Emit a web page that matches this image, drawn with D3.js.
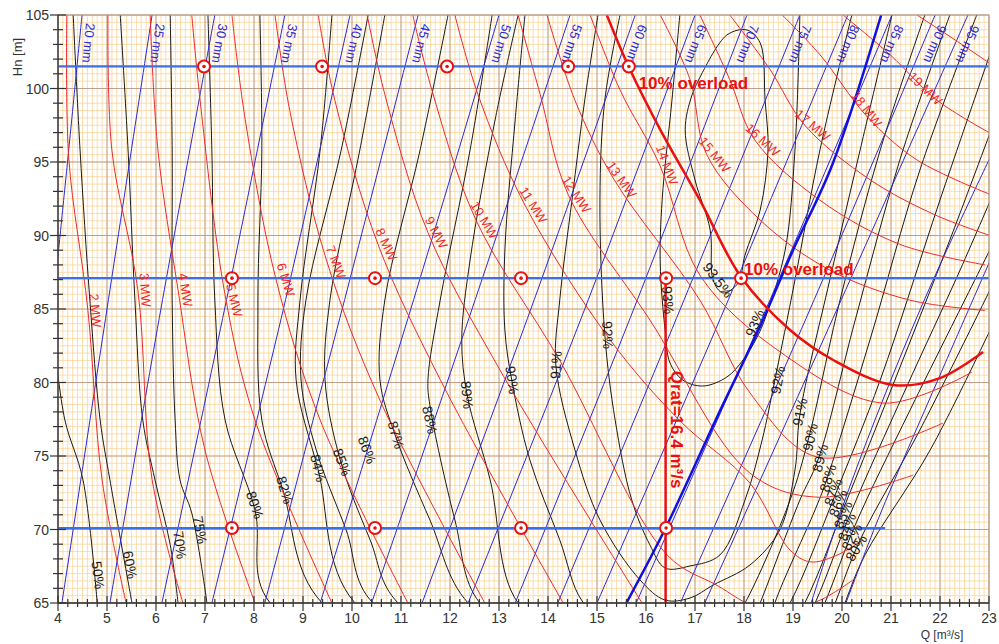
<!DOCTYPE html>
<html><head><meta charset="utf-8">
<script src="https://cdn.jsdelivr.net/npm/d3@7"></script>
<style>body{margin:0;background:#fff}svg{display:block}text{font-family:Arial,"Liberation Sans",sans-serif}</style>
</head><body><svg id="c" width="999" height="644"></svg>
<script>
// ---------------- DATA ----------------
const qTickLabels = d3.range(4, 24, 1);
const hTickLabels = [65, 70, 75, 80, 85, 90, 95, 100, 105];
const headLevels = [101.5, 87.1, 70.1];
const headLevelEndQ = [23, 23, 20.88];
const markers = [
  [6.98,101.5],[9.39,101.5],[11.94,101.5],[14.41,101.5],[15.65,101.5],
  [7.55,87.1],[10.47,87.1],[13.45,87.1],[16.41,87.1],[17.94,87.1],
  [7.55,70.1],[10.47,70.1],[13.45,70.1],[16.41,70.1]
];
const qRated = 16.4;
const overloadLine = [[15.2,105],[15.65,101.46],[16.29,97.2],[17.1,92.4],[17.94,87.18],[18.94,83.57],[19.82,81.53],[21.04,79.83],[22.0,80.3],[22.88,82.07]];
const limitOpening = [[15.6,65],[16.4,70.1],[17.5,78],[18.3,83.6],[19.0,89],[19.8,94.8],[20.8,105]];

const openings = [20,25,30,35,40,45,50,55,60,65,70,75,80,85,90,95,100,105];
const openingLabelled = [true,true,true,true,true,true,true,true,true,true,true,true,true,true,true,true,false,false];
const openingLines = [
  [[3.95,87],[4.2,95.2],[4.49,105]],
  [[4.08,65],[5.0,85],[5.92,105]],
  [[5.06,65],[6.1,85],[7.2,105]],
  [[6.12,65],[7.4,85],[8.63,105]],
  [[7.14,65],[8.6,85],[9.96,105]],
  [[8.22,65],[9.8,85],[11.35,105]],
  [[9.35,65],[11.2,85],[13.0,105]],
  [[10.4,65],[12.45,85],[14.45,105]],
  [[11.43,65],[13.65,85],[15.78,105]],
  [[12.37,65],[14.75,85],[17.0,105]],
  [[13.33,65],[15.75,85],[18.06,105]],
  [[14.2,65],[16.7,85],[19.14,105]],
  [[15.0,65],[17.6,85],[20.12,105]],
  [[15.8,65],[18.45,85],[21.02,105]],
  [[16.7,65],[19.35,85],[21.9,105]],
  [[17.2,65],[19.9,85],[22.57,105]],
  [[19.37,65],[20.2,73.3],[21.6,85],[23.05,95.5]],
  [[20.08,65],[20.75,70.8],[22.0,80.5],[23.05,88.5]]
];

const powers = [2,3,4,5,6,7,8,9,10,11,12,13,14,15,16,17,18,19,20];
const powerLines = [
  [[4.18,105],[4.22,95.27],[4.61,84.93],[4.90,73.37],[5.39,65]],
  [[5.02,105],[5.10,95.8],[5.63,86.3],[5.92,73.4],[6.55,65]],
  [[5.88,105],[6.04,95.8],[6.45,86.3],[7.0,75.4],[8.02,65]],
  [[6.73,105],[6.90,99.2],[7.41,85.95],[8.02,77.45],[9.59,65]],
  [[7.55,105],[7.82,97.9],[8.45,87.0],[9.35,77.45],[11.14,65]],
  [[8.43,105],[8.73,98.5],[9.49,88.2],[10.57,78.8],[12.71,65]],
  [[9.31,105],[9.65,99.2],[10.53,89.4],[11.8,80.2],[14.31,65]],
  [[10.31,105],[10.67,99.6],[11.55,90.2],[13.02,80.85],[15.92,65]],
  [[11.24,105],[11.63,99.9],[12.53,91.05],[14.24,81.5],[16.43,68.27],[17.45,66.2],[18.33,64.66],[19.41,65],[20.22,66.56]],
  [[12.1,105],[12.57,99.6],[13.53,92.07],[15.27,82.89],[16.69,77.4],[18.12,73.16],[18.94,68.6],[19.35,67.8],[19.86,68.2],[20.43,69.3]],
  [[13.39,105],[13.84,99.6],[14.41,92.8],[16.08,84.25],[18.12,73.84],[19.49,72.2],[21.45,73.7]],
  [[13.98,105],[14.55,99.2],[15.35,93.8],[17.1,85.6],[18.12,79.3],[19.49,74.93],[22.06,77.24]],
  [[14.86,105],[15.47,99.9],[16.28,94.8],[17.1,87.3],[18.73,82.1],[20.84,78.6],[22.65,80.7]],
  [[16.29,105],[16.9,100.6],[17.24,95.5],[18.33,91.05],[19.75,87.65],[21.39,85.6],[22.92,84.9]],
  [[17.1,105],[17.71,100.6],[18.22,96.5],[19.55,92.4],[21.18,89.4],[22.92,88.0]],
  [[17.71,105],[18.53,101.3],[19.24,97.5],[20.57,93.8],[21.9,91.4],[23.02,90.0]],
  [[18.78,105],[19.55,102.3],[20.51,98.1],[21.53,95.14],[23.02,92.8]],
  [[20.02,105],[20.98,102.3],[21.94,99.2],[23.02,96.97]],
  [[21.53,105],[22.31,103.3],[23.02,101.7]]
];
const powerLabelAt = [[4.76,84.9],[5.78,86.3],[6.6,86.3],[7.6,85.6],[8.65,87.0],[9.67,88.2],[10.7,89.4],[11.72,90.2],[12.7,91.05],[13.7,92.07],[14.58,92.8],[15.5,93.8],[16.43,94.8],[17.4,95.5],[18.38,96.5],[19.4,97.5],[20.5,98.6],[21.7,100.0],null];

const effLevels = ["50%","60%","70%","75%","80%","82%","84%","85%","86%","87%","88%","89%","90%","91%","92%","93%","93.5%"];
const effLines = [
  [[3.94,82.21],[4.14,77.45],[4.51,73.37],[4.8,65]],
  [[4.31,105],[4.45,95.82],[4.65,85.61],[4.86,77.45],[5.06,73.37],[5.51,65]],
  [[5.27,105],[5.43,95.82],[5.57,85.61],[5.73,77.45],[5.98,73.37],[6.29,68.97],[6.45,65]],
  [[6.29,105],[6.33,95.82],[6.33,85.61],[6.39,77.45],[6.49,73.37],[6.73,71.12],[7.04,65]],
  [[7.06,105],[7.14,95.82],[7.2,85.61],[7.41,77.45],[8.02,71.33],[8.33,65],[15.06,56.36],[19.35,58.4],[20.06,65],[20.47,68.27],[21.8,75.41],[23.12,84.25]],
  [[8.12,105],[8.16,95.82],[8.08,85.61],[8.16,77.45],[8.59,72.69],[9.39,65],[15.06,57.04],[19.14,59.08],[19.86,65],[20.37,69.29],[21.59,76.77],[23.12,86.97]],
  [[9.59,105],[9.35,95.82],[8.94,85.61],[8.86,80.17],[9.31,74.05],[10.06,65],[15.06,57.72],[18.94,59.76],[19.65,65],[20.27,70.31],[21.39,78.13],[23.12,89.69]],
  [[10.67,105],[10.16,95.82],[9.55,85.61],[9.45,80.17],[9.76,74.73],[10.37,69.29],[10.94,65],[15.06,58.4],[18.73,60.44],[19.45,65],[20.16,70.99],[21.29,79.49],[22.41,87.65],[23.12,93.1]],
  [[10.33,105],[9.78,95.82],[9.06,85.61],[8.96,80.17],[9.27,75.41],[9.88,69.97],[10.43,65],[15.06,59.08],[18.53,61.12],[19.24,65],[20.06,71.67],[21.08,80.17],[22.2,89.69],[23.12,97.86]],
  [[11.96,105],[11.39,95.82],[10.67,85.61],[10.57,80.17],[10.88,76.43],[11.59,70.65],[12.37,65],[15.06,59.76],[18.33,61.8],[18.94,65],[19.86,72.35],[20.78,80.17],[22.0,92.42],[23.12,103.3]],
  [[12.86,105],[12.41,95.82],[11.8,85.61],[11.55,80.17],[11.59,78.45],[12.1,70.65],[12.61,65],[15.06,60.44],[17.51,59.76],[18.43,62.48],[18.63,65],[19.45,71.33],[19.67,73.23],[20.57,82.89],[21.59,94.46],[22.75,105]],
  [[13.39,105],[12.92,97.86],[12.41,88.33],[12.24,82.89],[12.35,79.15],[12.82,73.37],[13.39,65],[15.06,61.8],[17.1,61.12],[18.02,62.48],[18.33,65],[19.14,72.0],[19.51,74.73],[20.27,84.25],[21.18,95.14],[22.2,105]],
  [[13.53,105],[13.33,97.86],[13.12,89.01],[13.12,83.57],[13.26,80.17],[13.63,74.73],[14.24,69.29],[14.71,65.07],[15.47,63.16],[16.9,62.48],[17.71,63.5],[18.02,65],[18.94,72.0],[19.31,76.09],[19.96,85.61],[20.78,95.82],[21.69,105]],
  [[15.02,105],[14.75,99.22],[14.49,92.42],[14.24,85.61],[14.16,81.19],[14.55,75.41],[15.06,70.65],[15.88,66.56],[16.39,65.2],[16.9,65.34],[17.37,66.22],[18.12,67.58],[18.73,69.97],[19.04,74.05],[19.14,77.79],[19.75,86.97],[20.37,95.82],[21.02,105]],
  [[15.47,105],[15.16,99.22],[15.06,92.42],[15.16,83.23],[15.37,77.45],[15.71,72.0],[16.08,68.95],[16.39,67.38],[16.9,67.52],[17.51,68.27],[18.02,72.0],[18.37,76.09],[18.63,80.17],[19.04,86.97],[19.55,95.82],[20.2,105]],
  [[16.69,105],[16.53,99.22],[16.33,92.42],[16.29,88.13],[16.39,83.57],[16.49,81.33],[16.75,80.17],[17.16,79.76],[17.65,80.37],[17.98,81.53],[18.27,83.1],[18.47,84.72],[18.84,89.01],[19.04,95.82],[19.14,105]],
  [[17.2,101.39],[17.65,103.64],[18.06,103.98],[18.33,103.1],[18.43,99.22],[18.49,95.82],[18.33,91.73],[18.02,88.67],[17.88,86.77],[17.57,86.09],[17.37,86.97],[17.31,90.37],[17.0,93.78],[16.8,97.18],[16.94,99.56],[17.2,101.39]]
];
const effLabelAt = [[4.82,66.9],[5.47,67.6],[6.49,68.95],[6.9,69.97],[8.02,71.67],[8.63,72.69],[9.31,74.18],[9.8,74.59],[10.31,75.41],[10.9,76.43],[11.59,77.45],[12.35,79.15],[13.27,80.17],[14.16,81.19],[15.22,83.23],[16.45,85.61],[17.47,86.97]];
const effRightLabelAt = [null,null,null,null,[20.29,68.74],[20.2,69.49],[20.1,70.17],[20.02,70.99],[19.92,71.8],[19.82,72.55],[19.71,73.5],[19.55,74.86],[19.35,76.29],[19.14,77.99],[18.69,80.17],[18.22,84.05],null];

// ---------------- SCALES ----------------
const x = d3.scaleLinear().domain([4, 23]).range([58, 989]);
const y = d3.scaleLinear().domain([65, 105]).range([603, 15]);
const svg = d3.select("#c");
svg.append("defs").append("clipPath").attr("id", "clip")
  .append("rect").attr("x", 58).attr("y", 15).attr("width", 931).attr("height", 588);

const grid = svg.append("g");
grid.selectAll(".vq").data(d3.range(40, 231).map(d => d / 10)).join("line")
  .attr("x1", d => x(d)).attr("x2", d => x(d)).attr("y1", y(65)).attr("y2", y(105))
  .attr("stroke", "#fbd08c").attr("stroke-width", 0.7);
grid.selectAll(".hh").data(d3.range(130, 211).map(d => d / 2)).join("line")
  .attr("y1", d => y(d)).attr("y2", d => y(d)).attr("x1", x(4)).attr("x2", x(23))
  .attr("stroke", "#fbd08c").attr("stroke-width", 0.7);
grid.selectAll(".vm").data(qTickLabels).join("line")
  .attr("x1", d => x(d)).attr("x2", d => x(d)).attr("y1", y(65)).attr("y2", y(105))
  .attr("stroke", "#b09080").attr("stroke-width", 0.8);
grid.selectAll(".hm").data(hTickLabels).join("line")
  .attr("y1", d => y(d)).attr("y2", d => y(d)).attr("x1", x(4)).attr("x2", x(23))
  .attr("stroke", "#b09080").attr("stroke-width", 0.8);

const plot = svg.append("g").attr("clip-path", "url(#clip)");
const line = d3.line().x(d => x(d[0])).y(d => y(d[1])).curve(d3.curveCatmullRom.alpha(0.5));

function angleAt(pts, q, h, mode) {
  const P = pts.map(p => [x(p[0]), y(p[1])]);
  const ax = x(q), ay = y(h);
  let best = 1e9, ang = 0;
  for (let i = 0; i < P.length - 1; i++) {
    const dx = P[i + 1][0] - P[i][0], dy = P[i + 1][1] - P[i][1];
    const L2 = dx * dx + dy * dy;
    let t = ((ax - P[i][0]) * dx + (ay - P[i][1]) * dy) / L2; t = Math.max(0, Math.min(1, t));
    const d = (P[i][0] + t * dx - ax) ** 2 + (P[i][1] + t * dy - ay) ** 2;
    if (d < best) { best = d; ang = Math.atan2(dy, dx) * 180 / Math.PI; }
  }
  if (mode === "down") { while (ang < 0) ang += 180; while (ang >= 180) ang -= 180; }
  else { while (ang > 90) ang -= 180; while (ang <= -90) ang += 180; }
  return ang;
}

plot.append("g").selectAll("path").data(effLines).join("path")
  .attr("d", line).attr("fill", "none").attr("stroke", "#1a1a1a").attr("stroke-width", 1);
plot.append("g").selectAll("path").data(openingLines).join("path")
  .attr("d", line).attr("fill", "none").attr("stroke", "#2a2ad6").attr("stroke-width", 1);
plot.append("g").selectAll("path").data(powerLines).join("path")
  .attr("d", line).attr("fill", "none").attr("stroke", "#ec2a2a").attr("stroke-width", 1);

plot.append("g").selectAll("line").data(headLevels).join("line")
  .attr("x1", x(4)).attr("x2", (d, i) => x(headLevelEndQ[i])).attr("y1", d => y(d)).attr("y2", d => y(d))
  .attr("stroke", "#3d6fe6").attr("stroke-width", 2.2);
plot.append("path").attr("d", line(limitOpening)).attr("fill", "none").attr("stroke", "#1010e0").attr("stroke-width", 2.5);
plot.append("path").attr("d", line(overloadLine)).attr("fill", "none").attr("stroke", "#e81010").attr("stroke-width", 2.5);
plot.append("line").attr("x1", x(qRated)).attr("x2", x(qRated)).attr("y1", y(65)).attr("y2", y(87.1))
  .attr("stroke", "#e81010").attr("stroke-width", 2.5);

const lab = svg.append("g");
openings.forEach((o, i) => {
  if (!openingLabelled[i]) return;
  const pts = openingLines[i];
  const top = pts[pts.length - 1];
  const ang = angleAt(pts, top[0], top[1], "down");
  lab.append("text").attr("transform", `translate(${x(top[0])},${y(104.5)}) rotate(${ang})`)
    .attr("dy", -4).attr("font-size", 13).attr("fill", "#2a2ad6").text(o + " mm");
});
powers.forEach((p, i) => {
  const a = powerLabelAt[i]; if (!a) return;
  const ang = angleAt(powerLines[i], a[0] - 0.1, a[1], "up");
  lab.append("text").attr("transform", `translate(${x(a[0])},${y(a[1])}) rotate(${ang})`)
    .attr("text-anchor", "middle").attr("dominant-baseline", "central").attr("font-size", 13).attr("fill", "#ec2a2a").text(p + " MW");
});
effLevels.forEach((e, i) => {
  const a = effLabelAt[i];
  const ang = angleAt(effLines[i], a[0] - 0.1, a[1], "up");
  lab.append("text").attr("transform", `translate(${x(a[0])},${y(a[1])}) rotate(${ang})`)
    .attr("text-anchor", "middle").attr("dominant-baseline", "central").attr("font-size", 14).attr("fill", "#1a1a1a").text(e);
  const b = effRightLabelAt[i];
  if (b) {
    const ang2 = angleAt(effLines[i], b[0] + 0.1, b[1], "up");
    lab.append("text").attr("transform", `translate(${x(b[0])},${y(b[1])}) rotate(${ang2})`)
      .attr("text-anchor", "middle").attr("dominant-baseline", "central").attr("font-size", 14).attr("fill", "#1a1a1a").text(e);
  }
});
lab.append("text").attr("x", x(15.85)).attr("y", y(100.0)).attr("font-size", 17).attr("font-weight", "bold").attr("fill", "#e81010").text("10% overload");
lab.append("text").attr("x", x(18.0)).attr("y", y(87.3)).attr("font-size", 17).attr("font-weight", "bold").attr("fill", "#e81010").text("10% overload");
lab.append("text").attr("transform", `translate(${x(qRated) + 5},${y(80.8)}) rotate(90)`)
  .attr("font-size", 17).attr("font-weight", "bold").attr("fill", "#e81010").text("Qrat=16.4 m³/s");

const mk = svg.append("g");
mk.selectAll("circle.o").data(markers).join("circle").attr("cx", d => x(d[0])).attr("cy", d => y(d[1]))
  .attr("r", 6).attr("fill", "#fff").attr("stroke", "#e81010").attr("stroke-width", 2);
mk.selectAll("circle.i").data(markers).join("circle").attr("cx", d => x(d[0])).attr("cy", d => y(d[1]))
  .attr("r", 1.8).attr("fill", "#e81010");

svg.append("rect").attr("x", 58).attr("y", 15).attr("width", 931).attr("height", 588)
  .attr("fill", "none").attr("stroke", "#b8a090").attr("stroke-width", 1);

const ax = svg.append("g");
ax.append("line").attr("x1", 58).attr("x2", 58).attr("y1", 15).attr("y2", 603).attr("stroke", "#333").attr("stroke-width", 1.3);
ax.append("line").attr("x1", 58).attr("x2", 989).attr("y1", 603).attr("y2", 603).attr("stroke", "#333").attr("stroke-width", 1.3);
ax.selectAll(".ty").data(d3.range(65, 106)).join("line")
  .attr("y1", d => y(d)).attr("y2", d => y(d)).attr("x1", d => d % 5 === 0 ? 50 : 53).attr("x2", d => d % 5 === 0 ? 66 : 63)
  .attr("stroke", "#333").attr("stroke-width", 1.2);
ax.selectAll(".tx").data(d3.range(20, 116).map(d => d / 5)).join("line")
  .attr("x1", d => x(d)).attr("x2", d => x(d)).attr("y1", d => Math.abs(d - Math.round(d)) < 1e-6 ? 596 : 599).attr("y2", d => Math.abs(d - Math.round(d)) < 1e-6 ? 611 : 607)
  .attr("stroke", "#333").attr("stroke-width", 1.2);
ax.selectAll(".ly").data(hTickLabels).join("text").attr("x", 49).attr("y", d => y(d) + 5)
  .attr("text-anchor", "end").attr("font-size", 14).attr("fill", "#333").text(d => d);
ax.selectAll(".lx").data(qTickLabels).join("text").attr("x", d => x(d)).attr("y", 623)
  .attr("text-anchor", "middle").attr("font-size", 14).attr("fill", "#333").text(d => d);
ax.append("text").attr("transform", "translate(22,57) rotate(-90)").attr("text-anchor", "middle")
  .attr("font-size", 13).attr("fill", "#333").text("Hn [m]");
ax.append("text").attr("x", 942).attr("y", 639).attr("text-anchor", "middle")
  .attr("font-size", 12).attr("fill", "#333").text("Q [m³/s]");
</script></body></html>
